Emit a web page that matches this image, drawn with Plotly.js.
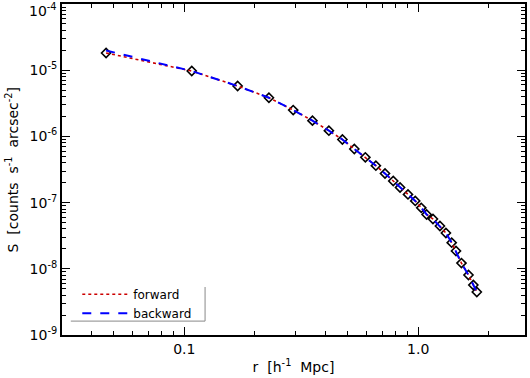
<!DOCTYPE html>
<html>
<head>
<meta charset="utf-8">
<script src="https://cdn.plot.ly/plotly-3.0.1.min.js"></script>
<style>
  body { margin: 0; padding: 0; background: #fff; }
  #chart { width: 530px; height: 378px; }
</style>
</head>
<body>
<div id="chart"></div>
<script>
// radius r [h^-1 Mpc] of each profile bin
var r_bins = [0.0463, 0.1076, 0.169, 0.230, 0.292, 0.353, 0.415, 0.474, 0.533, 0.594,
              0.659, 0.721, 0.782, 0.836, 0.904, 0.971, 1.03, 1.086, 1.156, 1.238,
              1.313, 1.39, 1.45, 1.53, 1.64, 1.72, 1.78];
// surface brightness S [counts s^-1 arcsec^-2]
var s_data = [1.82e-5, 9.72e-6, 5.77e-6, 3.84e-6, 2.50e-6, 1.73e-6, 1.22e-6, 8.98e-7, 6.45e-7, 4.83e-7,
              3.61e-7, 2.75e-7, 2.12e-7, 1.69e-7, 1.33e-7, 1.06e-7, 8.34e-8, 6.61e-8, 5.65e-8, 4.43e-8,
              3.47e-8, 2.48e-8, 1.86e-8, 1.22e-8, 8.05e-9, 5.69e-9, 4.47e-9];
var s_forward = [1.82e-5, 9.72e-6, 5.77e-6, 3.84e-6, 2.50e-6, 1.73e-6, 1.22e-6, 8.98e-7, 6.45e-7, 4.83e-7,
                 3.61e-7, 2.75e-7, 2.12e-7, 1.69e-7, 1.33e-7, 1.06e-7, 8.34e-8, 6.61e-8, 5.65e-8, 4.43e-8,
                 3.47e-8, 2.48e-8, 1.86e-8, 1.22e-8, 8.05e-9, 5.69e-9, 4.47e-9];
var s_backward = [1.98e-5, 9.72e-6, 5.77e-6, 3.84e-6, 2.50e-6, 1.73e-6, 1.22e-6, 8.98e-7, 6.45e-7, 4.83e-7,
                  3.61e-7, 2.75e-7, 2.12e-7, 1.69e-7, 1.33e-7, 1.06e-7, 8.34e-8, 6.61e-8, 5.65e-8, 4.43e-8,
                  3.47e-8, 2.48e-8, 1.86e-8, 1.22e-8, 8.05e-9, 5.69e-9, 4.47e-9];

var x_ticks = [0.1, 1.0];
var x_ticklabels = ['0.1', '1.0'];
var x_minor = [0.04, 0.05, 0.06, 0.07, 0.08, 0.09, 0.2, 0.3, 0.4, 0.5, 0.6, 0.7, 0.8, 0.9, 2];
var y_ticks = [1e-9, 1e-8, 1e-7, 1e-6, 1e-5, 1e-4];
// the top label is drawn as an annotation so it stays inside the page
var y_ticklabels = ['10<sup>-9</sup>', '10<sup>-8</sup>', '10<sup>-7</sup>', '10<sup>-6</sup>', '10<sup>-5</sup>', ''];
var y_toplabel = '10<sup>-4</sup>';
var y_title = 'S  [counts  s<sup>-1</sup>  arcsec<sup>-2</sup>]';
var y_minor = [];
for (var d = -9; d < -4; d++) {
  for (var k = 2; k < 10; k++) { y_minor.push(k * Math.pow(10, d)); }
}

var points = {
  x: r_bins, y: s_data,
  type: 'scatter', mode: 'markers',
  showlegend: false,
  marker: {symbol: 'diamond-open', size: 7, color: 'black', line: {color: 'black', width: 1.6}}
};
var forward = {
  x: r_bins, y: s_forward,
  type: 'scatter', mode: 'lines',
  name: 'forward',
  line: {color: '#cc0000', dash: 'dot', width: 1.6}
};
var backward = {
  x: r_bins, y: s_backward,
  type: 'scatter', mode: 'lines',
  name: 'backward',
  line: {color: '#0000ff', dash: 'dash', width: 2}
};

var fam = 'DejaVu Sans, Verdana, sans-serif';
var axisfont = {family: fam, size: 14, color: 'black'};

var layout = {
  width: 530, height: 378,
  margin: {l: 62, r: 5, t: 4, b: 43},
  paper_bgcolor: 'white',
  plot_bgcolor: 'white',
  font: axisfont,
  showlegend: true,
  legend: {
    x: 0.033, y: 0.022, xanchor: 'left', yanchor: 'bottom',
    itemwidth: 46,
    bgcolor: 'rgba(0,0,0,0)',
    font: {family: fam, size: 12, color: 'black'}
  },
  xaxis: {
    type: 'log',
    range: [Math.log10(0.0300), Math.log10(2.86)],
    tickmode: 'array', tickvals: x_ticks, ticktext: x_ticklabels,
    ticks: 'inside', ticklen: 8, tickwidth: 1, tickcolor: 'black',
    minor: {tickmode: 'array', tickvals: x_minor, ticks: 'inside', ticklen: 4, tickwidth: 1, tickcolor: 'black', showgrid: false},
    showline: true, linewidth: 2, linecolor: 'black', mirror: 'ticks',
    showgrid: false, zeroline: false,
    tickfont: axisfont,
    title: {text: 'r  [h<sup>-1</sup>  Mpc]', font: axisfont, standoff: 6}
  },
  yaxis: {
    type: 'log',
    range: [-9, -4],
    tickmode: 'array', tickvals: y_ticks, ticktext: y_ticklabels,
    ticks: 'inside', ticklen: 8, tickwidth: 1, tickcolor: 'black',
    minor: {tickmode: 'array', tickvals: y_minor, ticks: 'inside', ticklen: 4, tickwidth: 1, tickcolor: 'black', showgrid: false},
    showline: true, linewidth: 2, linecolor: 'black', mirror: 'ticks',
    showgrid: false, zeroline: false,
    tickfont: axisfont
  },
  annotations: [
    {text: y_toplabel, xref: 'paper', yref: 'paper', x: 0, y: 1, xanchor: 'right', yanchor: 'top',
     xshift: -3, yshift: 5, showarrow: false, font: axisfont},
    {text: y_title, xref: 'paper', yref: 'paper', x: 0, y: 0.5, xanchor: 'center', yanchor: 'middle',
     xshift: -50, yshift: 0, textangle: -90, showarrow: false, font: axisfont}
  ],
  shapes: [
    {type: 'line', xref: 'paper', yref: 'paper', x0: 0.019, x1: 0.309, y0: 0.042, y1: 0.042, line: {color: '#888', width: 1}},
    {type: 'line', xref: 'paper', yref: 'paper', x0: 0.309, x1: 0.309, y0: 0.042, y1: 0.145, line: {color: '#888', width: 1}}
  ]
};

Plotly.newPlot('chart', [points, forward, backward], layout, {displayModeBar: false, staticPlot: true});
</script>
</body>
</html>
